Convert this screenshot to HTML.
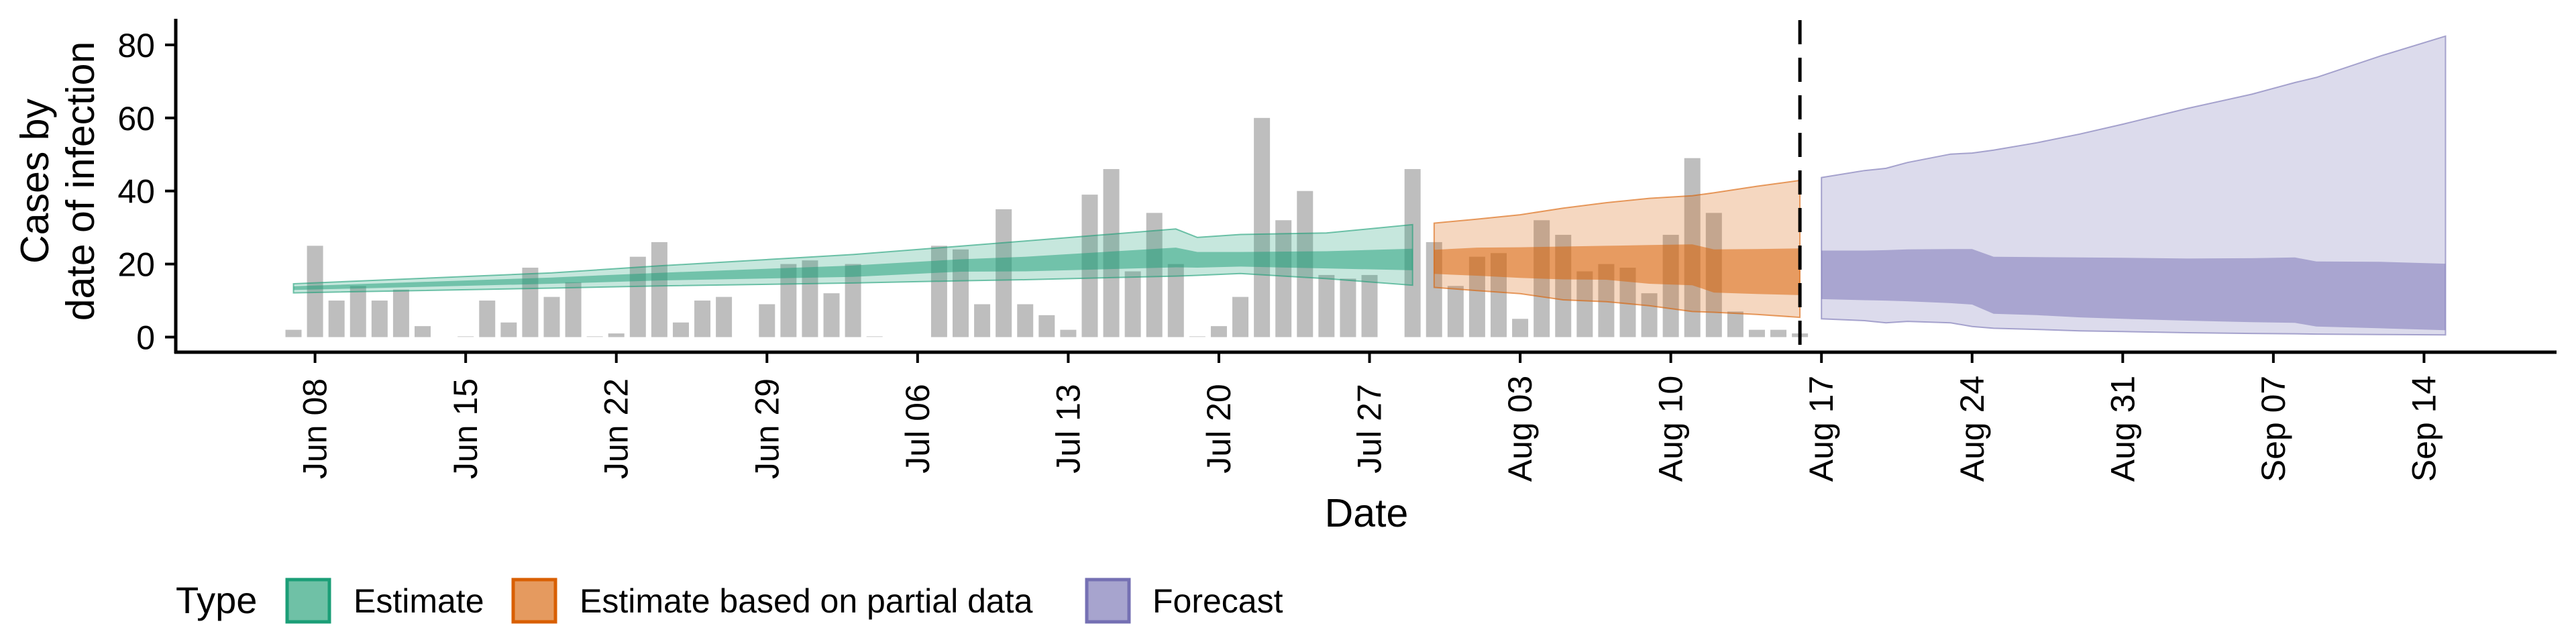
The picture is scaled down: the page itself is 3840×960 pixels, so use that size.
<!DOCTYPE html>
<html><head><meta charset="utf-8">
<style>
html,body{margin:0;padding:0;background:#fff;}
svg{display:block;font-family:"Liberation Sans",Arial,sans-serif;}
</style></head>
<body>
<svg id="chart" width="3840" height="960" viewBox="0 0 3840 960" xmlns="http://www.w3.org/2000/svg">
  <g id="bars"></g>
  <g id="ribbons"></g>
  <g id="axes"></g>
  <g font-size="59" fill="#000">
    <text transform="translate(72,270) rotate(-90)" text-anchor="middle">Cases by</text>
    <text transform="translate(140,270) rotate(-90)" text-anchor="middle">date of infection</text>
  </g>
  <text x="2037" y="785" font-size="59" text-anchor="middle">Date</text>
  <g font-size="50">
    <text x="262" y="914" font-size="56">Type</text>
    <rect x="428" y="864" width="63" height="63" fill="#6fc1a6" stroke="#1b9e77" stroke-width="5"/>
    <text x="527" y="913">Estimate</text>
    <rect x="765" y="864" width="63" height="63" fill="#e59a5f" stroke="#d95f02" stroke-width="5"/>
    <text x="864" y="913">Estimate based on partial data</text>
    <rect x="1620" y="864" width="63" height="63" fill="#a7a4ce" stroke="#7570b3" stroke-width="5"/>
    <text x="1718" y="913">Forecast</text>
  </g>
</svg>
<script>
// ---- data ----
const barStartDay = -1; // days relative to Jun 08
const barValues = [2,25,10,14,10,13,3,null,0,10,4,19,11,15,0,1,22,26,4,10,11,null,9,20,21,12,20,0,null,null,25,24,9,35,9,6,2,39,46,18,34,20,0,3,11,60,32,40,17,16,17,null,46,26,14,22,23,5,32,28,18,20,19,12,28,49,34,7,2,2,1];

const estDays = [-1,11,16,25,30,33,40,41,43,47,51];
const estUpper90 = [14.6,17.6,19.5,22.6,24.9,26.3,29.6,27.3,28.1,28.5,30.8];
const estLower90 = [12.1,13.4,14.0,14.8,15.4,15.7,16.7,16.9,17.4,16.0,14.2];
const estUpper50 = [13.9,16.3,17.6,19.6,21.3,22.0,24.5,23.3,23.3,23.5,24.2];
const estLower50 = [12.9,14.6,15.5,16.5,17.9,18.0,19.1,19.0,19.3,18.8,18.3];

const partDays = [52,54,56,58,60,62,64,65,67,69];
const partUpper90 = [31.2,32.3,33.5,35.3,36.8,38.0,38.7,39.5,41.3,42.9];
const partLower90 = [13.6,12.7,11.9,10.2,9.7,8.6,7.0,6.8,6.2,5.4];
const partUpper50 = [23.9,24.5,24.6,24.8,25.0,25.2,25.4,24.0,24.1,24.3];
const partLower50 = [17.3,16.8,16.2,15.8,15.7,14.6,14.2,12.2,11.8,11.5];

const fcDays = [70,72,73,74,76,77,78,80,82,84,87,90,92,93,96,99];
const fcUpper90 = [43.7,45.6,46.2,47.8,50.1,50.4,51.2,53.2,55.6,58.3,62.6,66.5,69.7,71.1,77.0,82.4];
const fcLower90 = [5.0,4.5,3.9,4.3,3.9,2.9,2.4,2.1,1.7,1.5,1.2,1.0,0.9,0.8,0.7,0.6];
const fcUpper50 = [23.7,23.7,23.8,24.0,24.1,24.1,22.0,21.9,21.8,21.7,21.5,21.6,21.8,20.7,20.6,20.1];
const fcLower50 = [10.4,10.1,10.0,9.8,9.3,8.9,6.4,6.0,5.4,5.0,4.5,4.1,3.9,2.9,2.4,1.9];

const yTicks = [0,20,40,60,80];
const xTickDays = [0,7,14,21,28,35,42,49,56,63,70,77,84,91,98];
const xTickLabels = ["Jun 08","Jun 15","Jun 22","Jun 29","Jul 06","Jul 13","Jul 20","Jul 27","Aug 03","Aug 10","Aug 17","Aug 24","Aug 31","Sep 07","Sep 14"];
const forecastStartDay = 69;

// ---- scales ----
const NS = "http://www.w3.org/2000/svg";
function x(d){ return 469.6 + 32.08*d; }
function y(v){ return 502.5 - v*5.445; }
function mk(tag, attrs, parent){
  const e = document.createElementNS(NS, tag);
  for (const k in attrs) e.setAttribute(k, attrs[k]);
  parent.appendChild(e);
  return e;
}

// bars
const gb = document.getElementById('bars');
barValues.forEach((v,i)=>{
  if (v === null) return;
  const d = barStartDay + i;
  const top = y(v), h = Math.max(1.5, y(0)-top);
  const r = mk('rect', {x: x(d)-12, y: y(0)-h, width: 24, height: h, fill: v===0 ? '#dcdcdc' : '#bebebe'}, gb);
  
  
});

// ribbons
const gr = document.getElementById('ribbons');
function ribbon(days, up, lo, fill, op, stroke, name){
  let pts = days.map((d,i)=>x(d).toFixed(1)+','+y(up[i]).toFixed(1));
  for (let i=days.length-1;i>=0;i--) pts.push(x(days[i]).toFixed(1)+','+y(lo[i]).toFixed(1));
  const p = mk('polygon', {points: pts.join(' '), fill: fill, 'fill-opacity': op, stroke: stroke||'none', 'stroke-width': stroke?2:0, 'stroke-opacity': 0.6}, gr);
  
  
}
ribbon(estDays, estUpper90, estLower90, '#1b9e77', 0.25, '#1b9e77', 'estimate-ribbon-90');
ribbon(estDays, estUpper50, estLower50, '#1b9e77', 0.5, null, 'estimate-ribbon-50');
ribbon(partDays, partUpper90, partLower90, '#d95f02', 0.25, '#d95f02', 'partial-ribbon-90');
ribbon(partDays, partUpper50, partLower50, '#d95f02', 0.5, null, 'partial-ribbon-50');
ribbon(fcDays, fcUpper90, fcLower90, '#7570b3', 0.25, '#7570b3', 'forecast-ribbon-90');
ribbon(fcDays, fcUpper50, fcLower50, '#7570b3', 0.5, null, 'forecast-ribbon-50');

// axes
const ga = document.getElementById('axes');
const dl = mk('line', {x1: x(forecastStartDay), x2: x(forecastStartDay), y1: 30, y2: 525, stroke: '#000', 'stroke-width': 5, 'stroke-dasharray': '36 20'}, ga);


const ya = mk('line', {x1: 262, x2: 262, y1: 28, y2: 527, stroke: '#000', 'stroke-width': 5}, ga);


const xa = mk('line', {x1: 260, x2: 3811, y1: 525, y2: 525, stroke: '#000', 'stroke-width': 5}, ga);


yTicks.forEach(t=>{
  const l = mk('line', {x1: 246, x2: 262, y1: y(t), y2: y(t), stroke: '#000', 'stroke-width': 4}, ga);
  
  
  const tx = mk('text', {x: 231, y: y(t)+18, 'font-size': 50, 'text-anchor': 'end'}, ga);
  tx.textContent = t;
  
  
});
xTickDays.forEach((d,i)=>{
  const l = mk('line', {x1: x(d), x2: x(d), y1: 525, y2: 541, stroke: '#000', 'stroke-width': 4}, ga);
  
  
  const tx = mk('text', {transform: 'translate('+(x(d)+17)+',639) rotate(-90)', 'font-size': 50, 'text-anchor': 'middle'}, ga);
  tx.textContent = xTickLabels[i];
  
  
});
</script>
</body></html>
